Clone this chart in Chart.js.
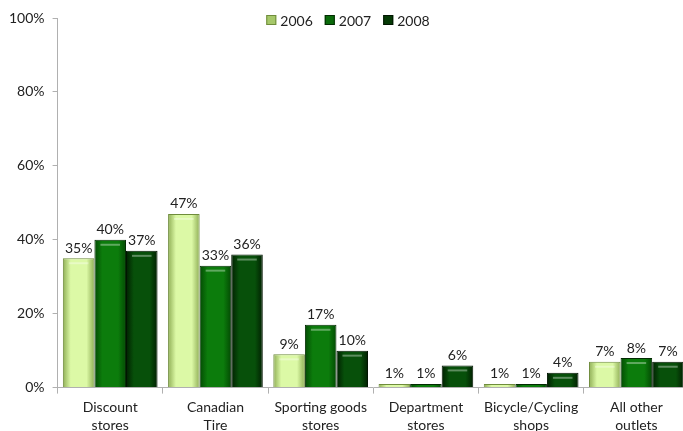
<!DOCTYPE html>
<html>
<head>
<meta charset="utf-8">
<script src="https://cdn.jsdelivr.net/npm/chart.js@4/dist/chart.umd.min.js"></script>
<style>
  html, body { margin: 0; padding: 0; background: #fff; overflow: hidden; }
  #wrap { width: 690px; height: 440px; }
</style>
</head>
<body>
<div id="wrap"><canvas id="barChart"></canvas></div>
<script>
// data
const categories = [
  ["Discount", "stores"],
  ["Canadian", "Tire"],
  ["Sporting goods", "stores"],
  ["Department", "stores"],
  ["Bicycle/Cycling", "shops"],
  ["All other", "outlets"]
];
const years = ["2006", "2007", "2008"];
const share2006 = [35, 47, 9, 1, 1, 7];
const share2007 = [40, 33, 17, 1, 1, 8];
const share2008 = [37, 36, 10, 6, 4, 7];
const yTicks = [0, 20, 40, 60, 80, 100];

const FONT = "Lato, 'Open Sans', sans-serif";

// edge / centre colours for the bevelled bars
const shades = [
  { edge: "#8fae55", mid: "#dcf9a6", border: "#6f8c3c", legend: "#a6c86a" },
  { edge: "#034a03", mid: "#0c7c0c", border: "#022a02", legend: "#0a6a0a" },
  { edge: "#011f01", mid: "#07500a", border: "#011401", legend: "#053a05" }
];

function barFill(shade) {
  return function (ctx) {
    const meta = ctx.chart.getDatasetMeta(ctx.datasetIndex);
    const el = meta.data[ctx.dataIndex];
    if (!el || el.x === undefined || !el.width) return shade.mid;
    const g = ctx.chart.ctx.createLinearGradient(el.x - el.width / 2, 0, el.x + el.width / 2, 0);
    g.addColorStop(0, shade.edge);
    g.addColorStop(0.25, shade.mid);
    g.addColorStop(0.75, shade.mid);
    g.addColorStop(1, shade.edge);
    return g;
  };
}

// value labels above bars + small highlight stripe near the top
const valueLabels = {
  id: "valueLabels",
  afterDatasetsDraw(chart) {
    const ctx = chart.ctx;
    ctx.save();
    chart.data.datasets.forEach((ds, i) => {
      const meta = chart.getDatasetMeta(i);
      meta.data.forEach((bar, j) => {
        const w = bar.width;
        if (bar.base - bar.y > 10) {
          ctx.strokeStyle = "rgba(255,255,255,0.35)";
          ctx.lineWidth = 2;
          ctx.beginPath();
          ctx.moveTo(bar.x - w / 2 + 6, bar.y + 5);
          ctx.lineTo(bar.x + w / 2 - 6, bar.y + 5);
          ctx.stroke();
        }
        ctx.fillStyle = "#222";
        ctx.font = "14px " + FONT;
        ctx.textAlign = "center";
        ctx.textBaseline = "bottom";
        ctx.fillText(ds.data[j] + "%", bar.x, bar.y - 3);
      });
    });
    ctx.restore();
  }
};

// legend overlapping the top of the plot, like the original
const topLegend = {
  id: "topLegend",
  afterDraw(chart) {
    const ctx = chart.ctx;
    ctx.save();
    ctx.font = "14px " + FONT;
    const box = 10, gap = 4, spacing = 12;
    const items = chart.data.datasets.map((ds, i) => ({ text: ds.label, color: shades[i].legend, border: shades[i].border }));
    let total = 0;
    items.forEach((it, k) => {
      it.w = ctx.measureText(it.text).width;
      total += box + gap + it.w + (k < items.length - 1 ? spacing : 0);
    });
    let x = 348 - total / 2;
    const y = 20;
    items.forEach(it => {
      ctx.fillStyle = it.color;
      ctx.fillRect(x, y - box / 2, box, box);
      ctx.strokeStyle = it.border;
      ctx.lineWidth = 1;
      ctx.strokeRect(x + 0.5, y - box / 2 + 0.5, box - 1, box - 1);
      ctx.fillStyle = "#222";
      ctx.textAlign = "left";
      ctx.textBaseline = "middle";
      ctx.fillText(it.text, x + box + gap, y + 1);
      x += box + gap + it.w + spacing;
    });
    ctx.restore();
  }
};

const chart = new Chart(document.getElementById("barChart").getContext("2d"), {
  type: "bar",
  data: {
    labels: categories,
    datasets: [share2006, share2007, share2008].map((vals, i) => ({
      label: years[i],
      data: vals,
      backgroundColor: barFill(shades[i]),
      borderColor: shades[i].border,
      borderWidth: 1,
      categoryPercentage: 0.9,
      barPercentage: 1.0
    }))
  },
  options: {
    responsive: true,
    maintainAspectRatio: false,
    animation: false,
    layout: { padding: { top: 18, left: 1, right: 1, bottom: 0 } },
    plugins: {
      legend: { display: false },
      tooltip: { enabled: false }
    },
    scales: {
      x: {
        grid: { drawOnChartArea: false, drawTicks: true, tickLength: 6, offset: true, color: "#b0b0b0" },
        border: { color: "#b0b0b0" },
        ticks: { color: "#222", font: { family: FONT, size: 14, lineHeight: 1.3 }, padding: 5, maxRotation: 0, autoSkip: false }
      },
      y: {
        min: 0,
        max: 100,
        afterBuildTicks: (axis) => { axis.ticks = yTicks.map(v => ({ value: v })); },
        grid: { drawOnChartArea: false, drawTicks: true, tickLength: 5, color: "#b0b0b0" },
        border: { color: "#b0b0b0" },
        ticks: { color: "#222", font: { family: FONT, size: 14 }, padding: 8, callback: v => v + "%" }
      }
    }
  },
  plugins: [valueLabels, topLegend]
});
// second pass so the gradients can see the bar positions
chart.update("none");
</script>
</body>
</html>
